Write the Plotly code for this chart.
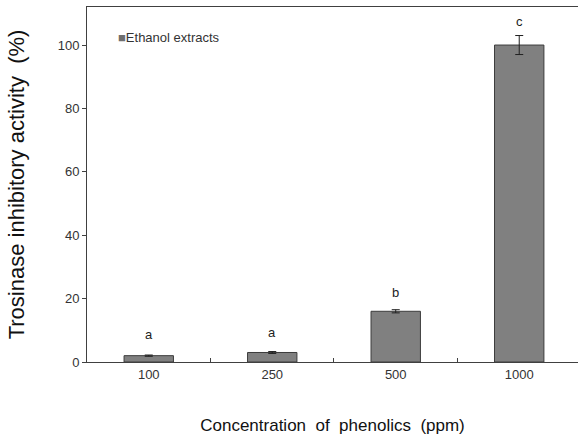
import plotly.graph_objects as go

categories = ["100", "250", "500", "1000"]
values = [2.0, 3.0, 16.0, 100.0]
errors = [0.2, 0.3, 0.5, 3.0]
letters = ["a", "a", "b", "c"]
letter_shift = [11, 10, 8, 5]
series_name = "Ethanol extracts"

fig = go.Figure()
fig.add_trace(go.Bar(
    x=list(range(len(categories))), y=values, name=series_name,
    marker=dict(color="#808080", line=dict(color="#3c3c3c", width=1)),
    width=0.4,
    error_y=dict(type="data", array=errors, visible=True, color="#202020", thickness=1, width=4),
    showlegend=False,
))

for i, (v, e, t, s) in enumerate(zip(values, errors, letters, letter_shift)):
    fig.add_annotation(x=i, y=v + e, xref="x", yref="y", text=t, showarrow=False,
                       yanchor="bottom", yshift=s,
                       font=dict(family="Liberation Sans, Arial", size=13, color="#222"))

# legend-like label
fig.add_annotation(x=0.06, y=0.915, xref="paper", yref="paper", xanchor="left", yanchor="middle",
                   showarrow=False,
                   text="<span style='color:#6e6e6e'>■</span>" + series_name,
                   font=dict(family="Liberation Sans, Arial", size=13, color="#333"))

fig.update_layout(
    width=578, height=435,
    margin=dict(l=87, r=0, t=7, b=73),
    paper_bgcolor="white", plot_bgcolor="white",
    font=dict(family="Liberation Sans, Arial", color="#333"),
    xaxis=dict(range=[-0.5, 3.476], showline=True, linecolor="#404040", linewidth=1,
               mirror=True, ticks="", showgrid=False, zeroline=False,
               tickmode="array", tickvals=list(range(len(categories))), ticktext=categories,
               tickfont=dict(size=13, color="#333"), automargin=False,
               minor=dict(tickmode="array", tickvals=[0.5, 1.5, 2.5], ticks="inside", ticklen=4,
                          tickcolor="#404040", showgrid=False),
               title=dict(text="Concentration  of  phenolics  (ppm)", font=dict(size=17, color="#111"), standoff=38)),
    yaxis=dict(range=[0, 112], dtick=20, showline=True, linecolor="#404040", linewidth=1,
               ticks="outside", ticklen=4, tickcolor="#404040", showgrid=False, zeroline=False,
               tickfont=dict(size=13, color="#333"), automargin=False,
               title=dict(text="Trosinase inhibitory activity  (%)", font=dict(size=22, color="#111"), standoff=26)),
)

fig.write_html("out.html", config={"displayModeBar": False},
               post_script="document.body.style.margin='0';")
